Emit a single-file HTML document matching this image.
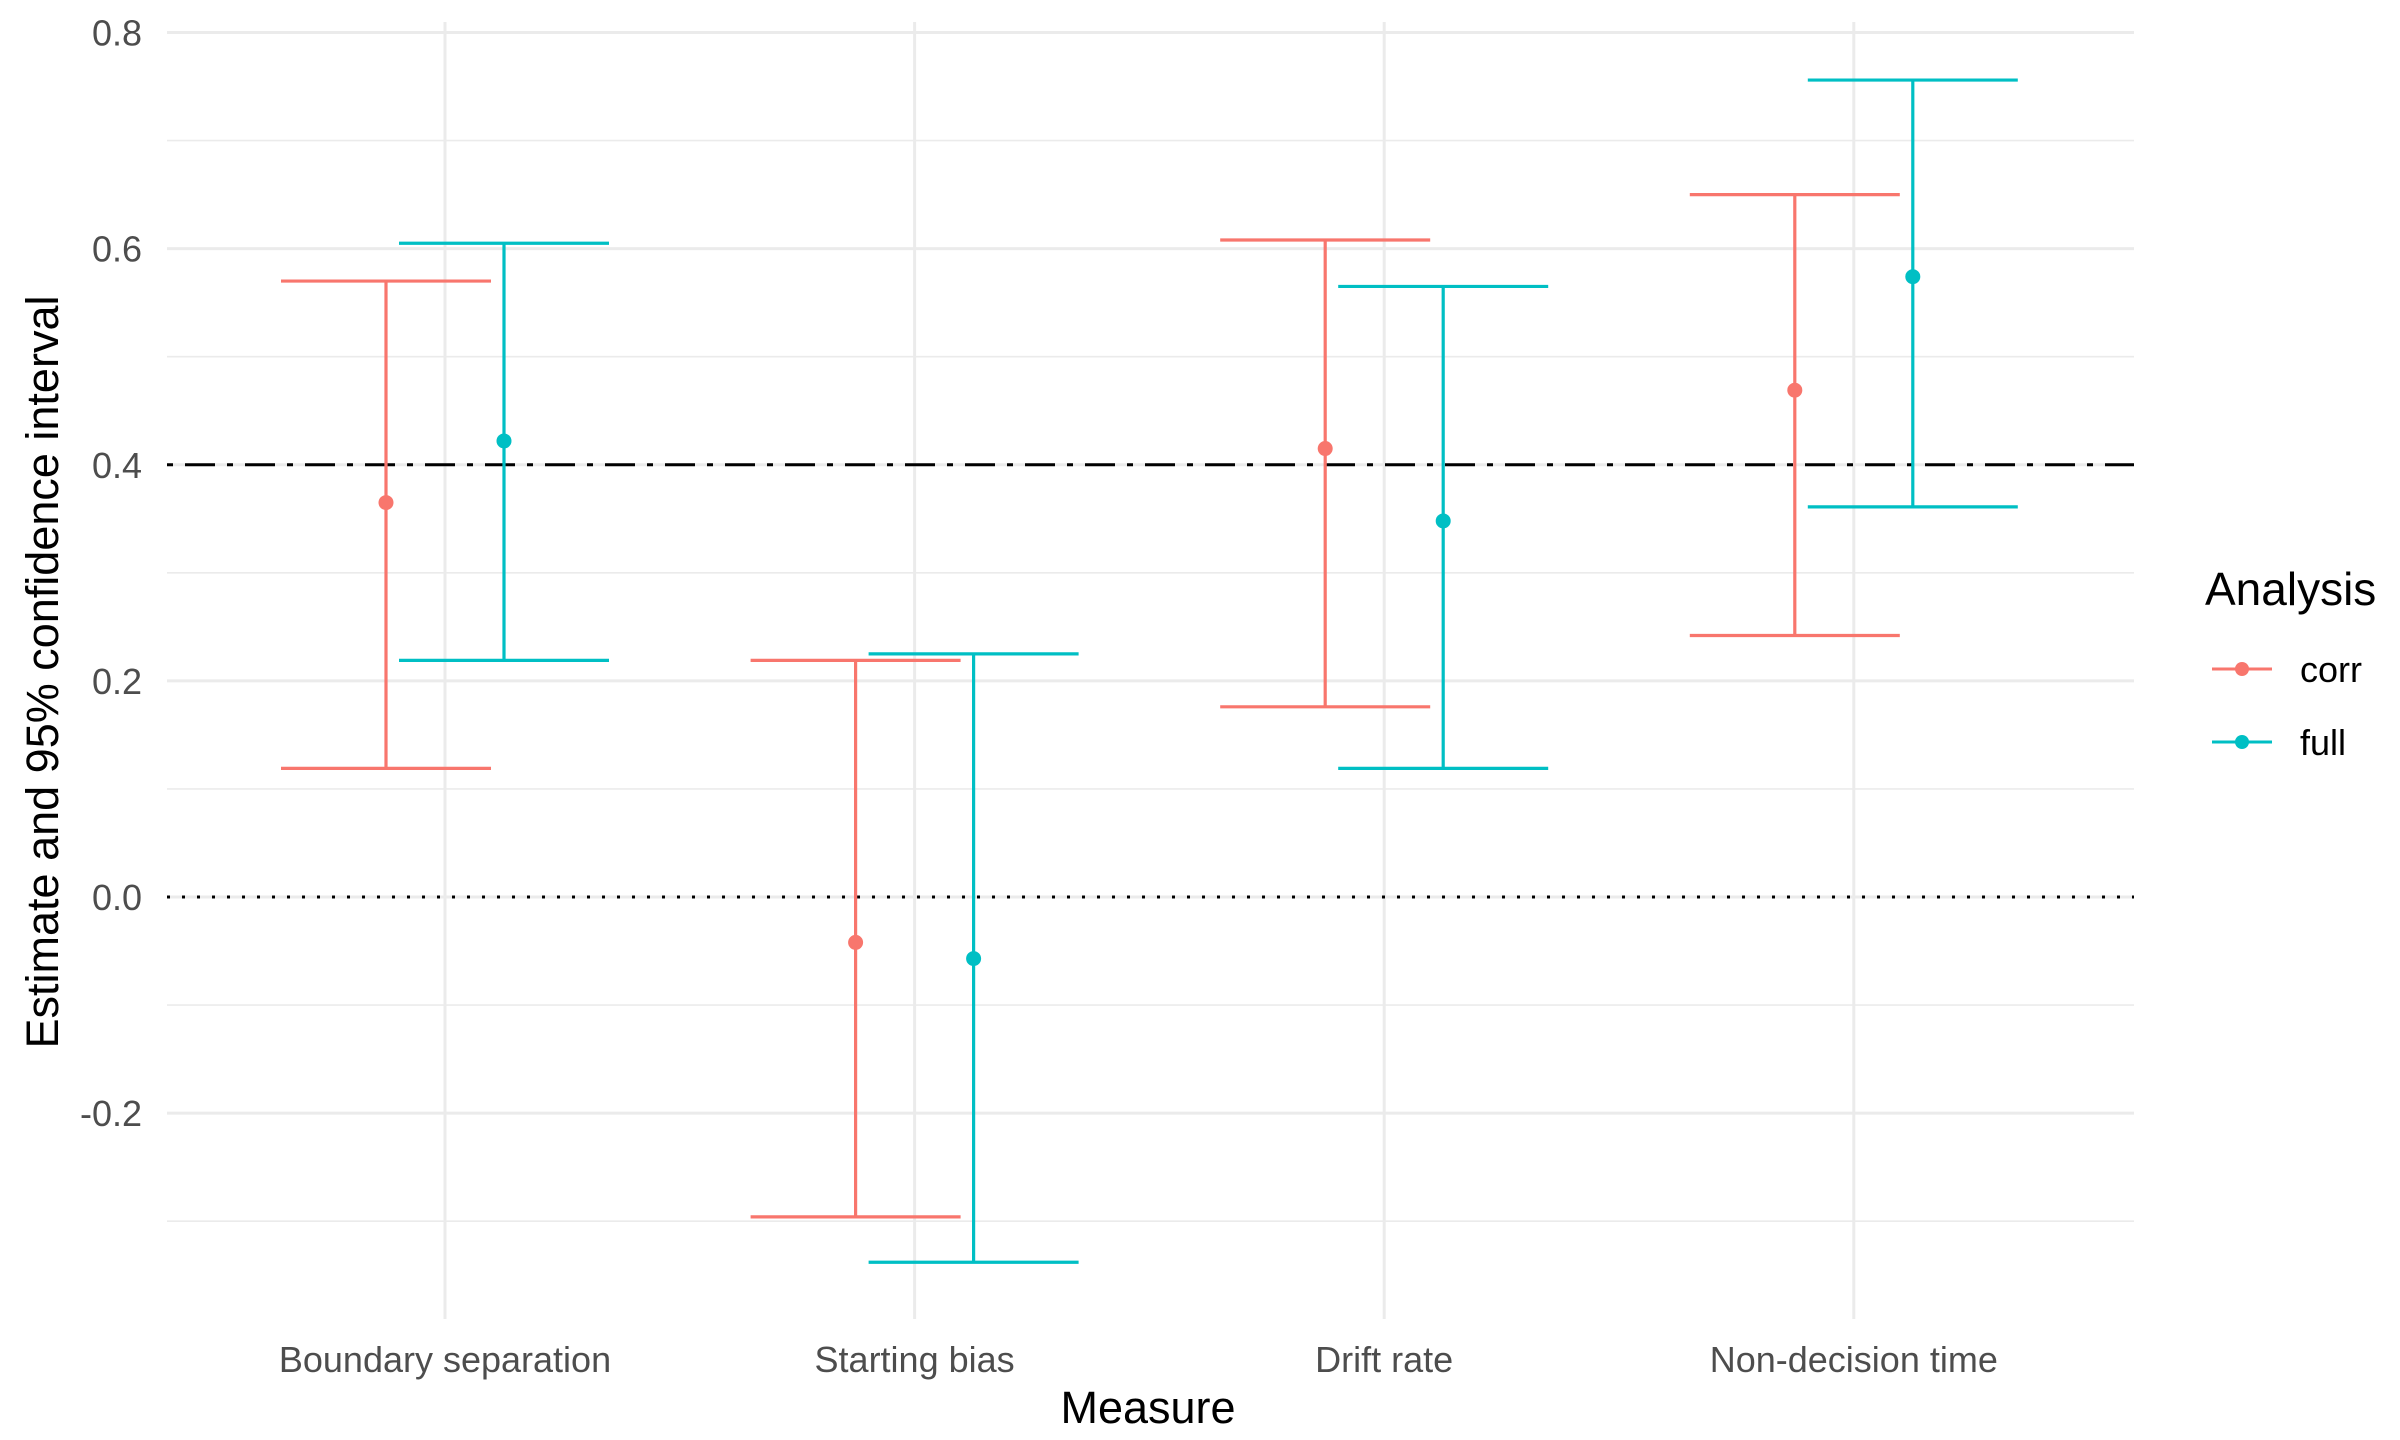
<!DOCTYPE html>
<html><head><meta charset="utf-8"><style>
html,body{margin:0;padding:0;background:#fff;}
svg{display:block;font-family:"Liberation Sans",Arial,sans-serif;}
</style></head><body>
<svg id="chart" width="2400" height="1440" viewBox="0 0 2400 1440" xmlns="http://www.w3.org/2000/svg">
<g id="grid"></g>
<g id="refs"></g>
<g id="marks"></g>
<g id="axes"></g>
<text x="1148" y="1423" font-size="45" text-anchor="middle" fill="#000">Measure</text>
<text transform="translate(58,672) rotate(-90)" font-size="45" text-anchor="middle" fill="#000">Estimate and 95% confidence interval</text>
<g>
<text x="2205" y="605" font-size="46" fill="#000">Analysis</text>
<g>
<line x1="2212" x2="2272" y1="669" y2="669" stroke="#F8766D" stroke-width="3"/>
<circle cx="2242" cy="669" r="7" fill="#F8766D"/>
<text x="2300" y="682" font-size="36" fill="#000">corr</text>
</g>
<g>
<line x1="2212" x2="2272" y1="742" y2="742" stroke="#00BFC4" stroke-width="3"/>
<circle cx="2242" cy="742" r="7" fill="#00BFC4"/>
<text x="2300" y="755" font-size="36" fill="#000">full</text>
</g>
</g>
</svg>
<script>
const categories = ["Boundary separation","Starting bias","Drift rate","Non-decision time"];
const series = ["corr","full"];
const corrEst = [0.365,-0.042,0.415,0.469];
const corrLow = [0.119,-0.296,0.176,0.242];
const corrHigh = [0.570,0.219,0.608,0.650];
const fullEst = [0.422,-0.057,0.348,0.574];
const fullLow = [0.219,-0.338,0.119,0.361];
const fullHigh = [0.605,0.225,0.565,0.756];
const yTicks = [-0.2,0.0,0.2,0.4,0.6,0.8];
const yTickLabels = ["-0.2","0.0","0.2","0.4","0.6","0.8"];
const yMinor = [-0.3,-0.1,0.1,0.3,0.5,0.7];

const NS="http://www.w3.org/2000/svg";
const L=167,R=2134,T=22,B=1319;
function y(v){return 897-(v)*1080.6;}
function x(i){return 445+i*469.6;}
const dodge=59, capW=105;
function mk(tag,attrs,parent){const e=document.createElementNS(NS,tag);for(const k in attrs)e.setAttribute(k,attrs[k]);parent.appendChild(e);return e;}
const grid=document.getElementById('grid'), refs=document.getElementById('refs'), marks=document.getElementById('marks'), axes=document.getElementById('axes');
yMinor.forEach(v=>{const l=mk('line',{x1:L,x2:R,y1:y(v),y2:y(v),stroke:'#ebebeb','stroke-width':1.6},grid);

});
yTicks.forEach((v,i)=>{const l=mk('line',{x1:L,x2:R,y1:y(v),y2:y(v),stroke:'#ebebeb','stroke-width':3},grid);


const t=mk('text',{x:142,y:y(v)+13,'font-size':36,'text-anchor':'end',fill:'#4d4d4d'},axes);t.textContent=yTickLabels[i];

});
categories.forEach((c,i)=>{const l=mk('line',{x1:x(i),x2:x(i),y1:T,y2:B,stroke:'#ebebeb','stroke-width':3},grid);


const t=mk('text',{x:x(i),y:1372,'font-size':36,'text-anchor':'middle',fill:'#4d4d4d'},axes);t.textContent=c;

});
const r1=mk('line',{x1:L,x2:R,y1:y(0.4),y2:y(0.4),stroke:'#000','stroke-width':3,'stroke-dasharray':'6 12 30 12'},refs);


const r0=mk('line',{x1:L,x2:R,y1:y(0),y2:y(0),stroke:'#000','stroke-width':3,'stroke-dasharray':'3 12'},refs);


function draw(est,lo,hi,off,col,name){
  categories.forEach((c,i)=>{
    const cx=x(i)+off;
    const g=mk('g',{},marks);
    
    
    mk('line',{x1:cx,x2:cx,y1:y(hi[i]),y2:y(lo[i]),stroke:col,'stroke-width':3.2},g);
    mk('line',{x1:cx-capW,x2:cx+capW,y1:y(hi[i]),y2:y(hi[i]),stroke:col,'stroke-width':3.2},g);
    mk('line',{x1:cx-capW,x2:cx+capW,y1:y(lo[i]),y2:y(lo[i]),stroke:col,'stroke-width':3.2},g);
    const p=mk('circle',{cx:cx,cy:y(est[i]),r:7.5,fill:col},g);
    
    
  });
}
draw(corrEst,corrLow,corrHigh,-dodge,'#F8766D','corr');
draw(fullEst,fullLow,fullHigh,dodge,'#00BFC4','full');
</script>
</body></html>
